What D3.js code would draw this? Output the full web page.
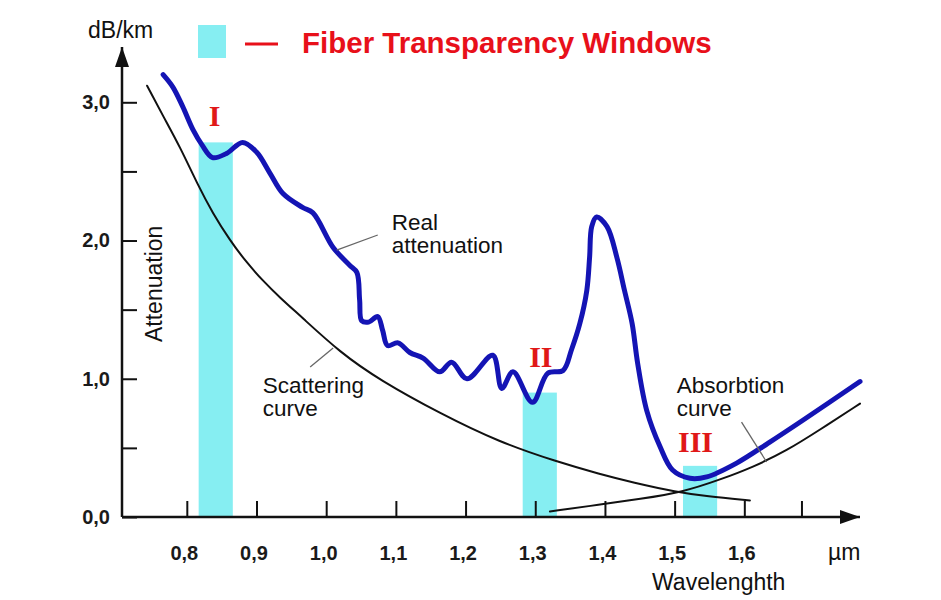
<!DOCTYPE html>
<html>
<head>
<meta charset="utf-8">
<script src="https://cdn.jsdelivr.net/npm/d3@7/dist/d3.min.js"></script>
<style>
	body { margin: 0; background: #fff; }
	svg { display: block; font-family: "Liberation Sans", Arial, sans-serif; }
</style>
</head>
<body>
<div id="chart"></div>
<script>
// wavelength in um, attenuation in dB/km
var realWavelength = [0.766, 0.780, 0.794, 0.809, 0.822, 0.837, 0.857, 0.880, 0.900, 0.919, 0.938, 0.966, 0.981,
	1.010, 1.034, 1.044, 1.048, 1.051, 1.061, 1.074, 1.081, 1.088, 1.103, 1.120, 1.139, 1.163, 1.180, 1.202,
	1.239, 1.252, 1.268, 1.296, 1.318, 1.340, 1.352, 1.364, 1.374, 1.378, 1.381, 1.388, 1.403, 1.417, 1.428,
	1.439, 1.447, 1.460, 1.479, 1.497, 1.522, 1.546, 1.589, 1.636, 1.684, 1.766];
var realAttenuation = [3.20, 3.11, 2.97, 2.80, 2.69, 2.60, 2.63, 2.71, 2.64, 2.49, 2.34, 2.24, 2.20,
	1.95, 1.82, 1.77, 1.57, 1.42, 1.41, 1.45, 1.35, 1.24, 1.26, 1.19, 1.15, 1.05, 1.12, 1.00,
	1.17, 0.93, 1.05, 0.83, 1.04, 1.06, 1.21, 1.40, 1.64, 1.88, 2.10, 2.17, 2.10, 1.88, 1.64,
	1.40, 1.11, 0.77, 0.51, 0.34, 0.28, 0.29, 0.39, 0.54, 0.70, 0.98];

var scatterWavelength = [0.743, 0.766, 0.790, 0.816, 0.837, 0.862, 0.886, 0.909, 0.933, 0.964, 1.020, 1.077,
	1.163, 1.249, 1.331, 1.393, 1.440, 1.503, 1.546, 1.608];
var scatterAttenuation = [3.12, 2.90, 2.68, 2.40, 2.20, 2.00, 1.84, 1.71, 1.59, 1.45, 1.19, 0.99,
	0.75, 0.54, 0.40, 0.31, 0.25, 0.18, 0.15, 0.12];

var absorbWavelength = [1.321, 1.393, 1.450, 1.512, 1.565, 1.612, 1.661, 1.708, 1.766];
var absorbAttenuation = [0.04, 0.09, 0.13, 0.18, 0.27, 0.36, 0.48, 0.63, 0.82];

// fiber transparency windows
var windowNames = ['I', 'II', 'III'];
var windowStart = [0.817, 1.282, 1.512];
var windowEnd = [0.866, 1.331, 1.561];
var windowTop = [2.71, 0.90, 0.37];

var xTicks = [0.8, 0.9, 1.0, 1.1, 1.2, 1.3, 1.4, 1.5, 1.6, 1.682];
var xTickLabels = ['0,8', '0,9', '1,0', '1,1', '1,2', '1,3', '1,4', '1,5', '1,6', ''];
var yTicks = [0, 0.5, 1, 1.5, 2, 2.5, 3];
var yTickLabels = ['0,0', '', '1,0', '', '2,0', '', '3,0'];

// label anchors, in axis units
var windowLabelAt = [[0.840, 2.83], [1.308, 1.085], [1.530, 0.47]];
var notes = [
	{ lines: ['Real', 'attenuation'], at: [1.094, 2.075], from: [1.015, 1.93], to: [1.074, 2.04] },
	{ lines: ['Scattering', 'curve'], at: [0.909, 0.897], from: [0.977, 1.085], to: [1.010, 1.222] },
	{ lines: ['Absorbtion', 'curve'], at: [1.503, 0.897], from: [1.596, 0.687], to: [1.632, 0.398] }
];

var width = 941, height = 600;

var svg = d3.select('#chart').append('svg')
	.attr('width', width)
	.attr('height', height);

var x = d3.scaleLinear().domain([0.707, 1.766]).range([122, 860]);
var y = d3.scaleLinear().domain([0, 3.4]).range([517, 47]);

svg.append('defs').append('marker')
	.attr('id', 'arrow')
	.attr('markerUnits', 'userSpaceOnUse')
	.attr('markerWidth', 22)
	.attr('markerHeight', 14)
	.attr('refX', 20)
	.attr('refY', 7)
	.attr('orient', 'auto')
	.append('path')
	.attr('d', 'M0,0L20,7L0,14Z')
	.attr('fill', '#111');

// windows
svg.append('g').selectAll('rect')
	.data(windowNames)
	.enter().append('rect')
	.attr('x', function(d, i) { return x(windowStart[i]); })
	.attr('width', function(d, i) { return x(windowEnd[i]) - x(windowStart[i]); })
	.attr('y', function(d, i) { return y(windowTop[i]); })
	.attr('height', function(d, i) { return y(0) - y(windowTop[i]); })
	.attr('fill', '#86eef2');

// axes
var xAxis = svg.append('g')
	.attr('transform', 'translate(0,' + y(0) + ')')
	.call(d3.axisBottom(x)
		.tickValues(xTicks)
		.tickFormat(function(d, i) { return xTickLabels[i]; })
		.tickSize(-16)
		.tickPadding(29));
var yAxis = svg.append('g')
	.attr('transform', 'translate(' + x.range()[0] + ',0)')
	.call(d3.axisLeft(y)
		.tickValues(yTicks)
		.tickFormat(function(d, i) { return yTickLabels[i]; })
		.tickSize(-15)
		.tickPadding(12));

[xAxis, yAxis].forEach(function(a) {
	a.select('.domain').remove();
	a.selectAll('.tick line').attr('stroke', '#111').attr('stroke-width', 2);
	a.selectAll('.tick text')
		.attr('fill', '#1a1a1a')
		.style('font-size', '20px')
		.style('font-weight', 'bold')
		.style('font-family', '"Liberation Sans", Arial, sans-serif');
});
xAxis.selectAll('.tick text').attr('dx', -3);

svg.append('line')
	.attr('x1', x.range()[0]).attr('y1', y(0))
	.attr('x2', x.range()[1]).attr('y2', y(0))
	.attr('stroke', '#111').attr('stroke-width', 2.5)
	.attr('marker-end', 'url(#arrow)');
svg.append('line')
	.attr('x1', x.range()[0]).attr('y1', y(0))
	.attr('x2', x.range()[0]).attr('y2', y.range()[1])
	.attr('stroke', '#111').attr('stroke-width', 2.5)
	.attr('marker-end', 'url(#arrow)');

// curves
function addCurve(xs, ys, color, w, curve) {
	var line = d3.line()
		.x(function(d) { return x(d[0]); })
		.y(function(d) { return y(d[1]); })
		.curve(curve);
	svg.append('path')
		.datum(d3.zip(xs, ys))
		.attr('fill', 'none')
		.attr('stroke', color)
		.attr('stroke-width', w)
		.attr('stroke-linecap', 'round')
		.attr('stroke-linejoin', 'round')
		.attr('d', line);
}
addCurve(scatterWavelength, scatterAttenuation, '#111', 2, d3.curveBasis);
addCurve(absorbWavelength, absorbAttenuation, '#111', 2, d3.curveBasis);
addCurve(realWavelength, realAttenuation, '#1414b4', 5, d3.curveCatmullRom.alpha(0.5));

// notes
notes.forEach(function(n) {
	svg.append('line')
		.attr('x1', x(n.from[0])).attr('y1', y(n.from[1]))
		.attr('x2', x(n.to[0])).attr('y2', y(n.to[1]))
		.attr('stroke', '#666').attr('stroke-width', 1.3);
	n.lines.forEach(function(s, i) {
		svg.append('text')
			.attr('x', x(n.at[0]))
			.attr('y', y(n.at[1]) + i * 23)
			.attr('fill', '#111')
			.style('font-size', '22.5px')
			.text(s);
	});
});

svg.append('g').selectAll('text')
	.data(windowNames)
	.enter().append('text')
	.attr('x', function(d, i) { return x(windowLabelAt[i][0]); })
	.attr('y', function(d, i) { return y(windowLabelAt[i][1]); })
	.attr('text-anchor', 'middle')
	.attr('fill', '#e01818')
	.style('font-family', '"Liberation Serif", "Times New Roman", serif')
	.style('font-weight', 'bold')
	.style('font-size', '30px')
	.text(function(d) { return d; });

// axis titles
svg.append('text').attr('x', 88).attr('y', 38)
	.attr('fill', '#111').style('font-size', '23px').text('dB/km');
svg.append('text').attr('x', 828).attr('y', 560)
	.attr('fill', '#111').style('font-size', '23px').text('\u00b5m');
svg.append('text').attr('x', 652).attr('y', 590)
	.attr('fill', '#111').style('font-size', '23px').text('Wavelenghth');
svg.append('text')
	.attr('transform', 'translate(162,342) rotate(-90)')
	.attr('fill', '#111').style('font-size', '23px').text('Attenuation');

// legend
var legend = svg.append('g');
legend.append('rect').attr('x', 198).attr('y', 25).attr('width', 28).attr('height', 33).attr('fill', '#86eef2');
legend.append('line').attr('x1', 245).attr('x2', 278).attr('y1', 44).attr('y2', 44)
	.attr('stroke', '#e8101a').attr('stroke-width', 3);
legend.append('text').attr('x', 302).attr('y', 53)
	.attr('fill', '#e8101a')
	.style('font-size', '29.5px')
	.style('font-weight', 'bold')
	.text('Fiber Transparency Windows');
</script>
</body>
</html>
